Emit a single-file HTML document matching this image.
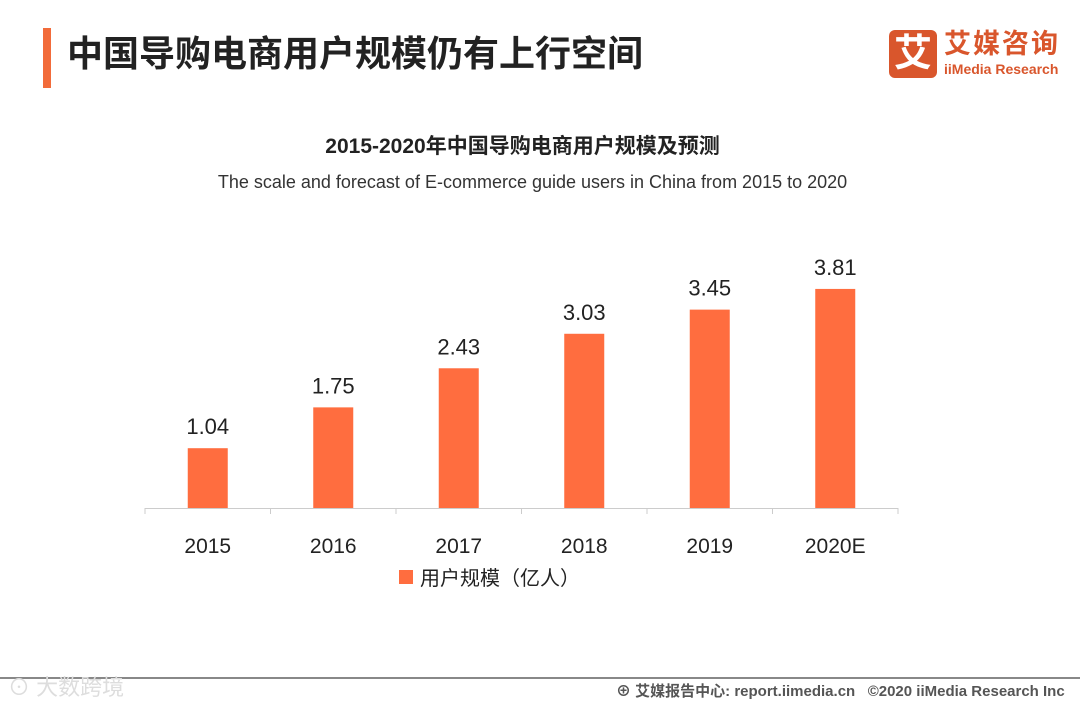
<!DOCTYPE html>
<html><head><meta charset="utf-8"><style>
body{margin:0;width:1080px;height:702px;background:#fff;position:relative;overflow:hidden;font-family:"Liberation Sans","Noto Sans CJK SC",sans-serif}
.a{position:absolute}
</style></head><body>
<div class="a" style="left:43px;top:28px;width:8px;height:60px;background:#f26b3a"></div>
<div class="a" style="left:67px;top:29px;font-size:36px;font-weight:bold;color:#222;line-height:50px">中国导购电商用户规模仍有上行空间</div>
<div class="a" style="left:889px;top:30px;width:48px;height:48px;background:#d9562c;border-radius:6px;color:#fff;font-size:38px;font-weight:bold;text-align:center;line-height:48px">艾</div>
<div class="a" style="left:944px;top:28px;color:#d9562c;font-size:27px;font-weight:bold;line-height:32px;letter-spacing:2px">艾媒咨询</div>
<div class="a" style="left:944px;top:61px;color:#d9562c;font-size:14px;font-weight:bold">iiMedia Research</div>
<div class="a" style="left:0;width:1045px;top:130px;text-align:center;font-size:21px;font-weight:bold;color:#222">2015-2020年中国导购电商用户规模及预测</div>
<div class="a" style="left:0;width:1065px;top:172px;text-align:center;font-size:18px;color:#333">The scale and forecast of E-commerce guide users in China from 2015 to 2020</div>
<svg class="a" style="left:0;top:0" width="1080" height="702" id="chart"></svg>
<div class="a" style="left:0;top:677px;width:1080px;height:2px;background:#888"></div>
<div class="a" style="left:8px;top:670px;font-size:22px;color:#ddd">⊙ 大数跨境</div>
<div class="a" style="left:616px;top:680px;font-size:15px;font-weight:bold;color:#555">⊕ 艾媒报告中心: report.iimedia.cn &nbsp;&nbsp;©2020 iiMedia Research Inc</div>
<script>
const categories=["2015","2016","2017","2018","2019","2020E"];
const values=[1.04,1.75,2.43,3.03,3.45,3.81];
const svg=document.getElementById('chart');
const NS='http://www.w3.org/2000/svg';
const x0=145,x1=898,base=508,scale=57.5,bw=40;
const step=(x1-x0)/categories.length;
const xc=i=>x0+step*(i+0.5);
const y=v=>base-v*scale;
function mk(t,a){const e=document.createElementNS(NS,t);for(const k in a)e.setAttribute(k,a[k]);svg.appendChild(e);return e;}
const ax=mk('line',{x1:x0,x2:x1,y1:base+0.5,y2:base+0.5,stroke:'#ccc'});


for(let i=0;i<=categories.length;i++){const t=mk('line',{x1:x0+step*i,x2:x0+step*i,y1:base,y2:base+6,stroke:'#ccc'});

}
categories.forEach((c,i)=>{
const r=mk('rect',{x:xc(i)-bw/2,y:y(values[i]),width:bw,height:values[i]*scale,fill:'#ff6d3f'});


const v=mk('text',{x:xc(i),y:y(values[i])-14,'text-anchor':'middle','font-size':22,fill:'#222'});v.textContent=values[i].toFixed(2);


const l=mk('text',{x:xc(i),y:553,'text-anchor':'middle','font-size':21,fill:'#222'});l.textContent=c;


});
const ls=mk('rect',{x:399,y:570,width:14,height:14,fill:'#ff6d3f'});


const lt=mk('text',{x:420,y:585,'font-size':20,fill:'#222'});lt.textContent='用户规模（亿人）';


</script>
</body></html>
